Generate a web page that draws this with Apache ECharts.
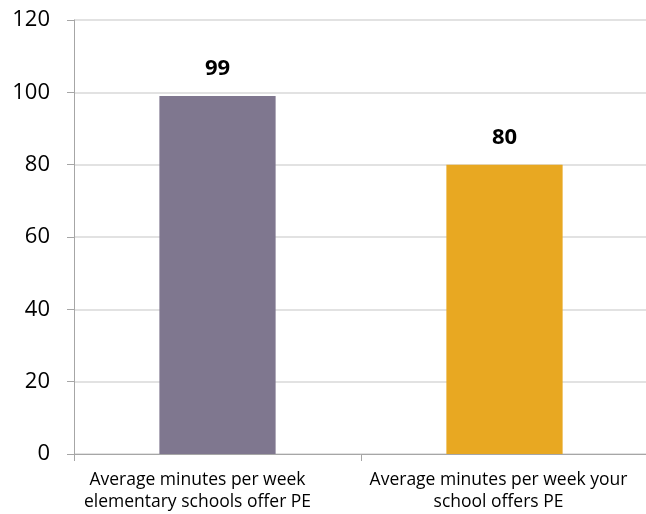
<!DOCTYPE html>
<html>
<head>
<meta charset="utf-8">
<script src="https://cdn.jsdelivr.net/npm/echarts@6/dist/echarts.min.js"></script>
<style>
  html, body { margin: 0; padding: 0; background: #fff; }
  #chart { width: 646px; height: 514px; }
</style>
</head>
<body>
<div id="chart"></div>
<script>
// Average weekly PE minutes: national elementary average vs. this school
const categories = [
  'Average minutes per week\nelementary schools offer PE',
  'Average minutes per week your\nschool offers PE'
];
const minutes = [99, 80];
const barColors = ['#7f778f', '#e8a822'];
const yTicks = { min: 0, max: 120, interval: 20 };
// right-side padding nudges each wrapped label left of its bar centre
const labelPadRight = [40, 12];

const chart = echarts.init(document.getElementById('chart'));
chart.setOption({
  animation: false,
  grid: { left: 74, right: -2, top: 20, bottom: 60, outerBoundsMode: 'none' },
  xAxis: {
    type: 'category',
    data: categories.map((c, i) => ({
      value: c,
      textStyle: { padding: [0, labelPadRight[i], 0, 0] }
    })),
    axisLine: { lineStyle: { color: '#a6a6a6', width: 1 } },
    axisTick: { show: true, alignWithLabel: false, length: 7, lineStyle: { color: '#a6a6a6' } },
    axisLabel: {
      color: '#000',
      fontFamily: 'Open Sans',
      fontSize: 17.5,
      lineHeight: 22,
      margin: 15,
      interval: 0
    }
  },
  yAxis: {
    type: 'value',
    min: yTicks.min,
    max: yTicks.max,
    interval: yTicks.interval,
    axisLine: { show: true, lineStyle: { color: '#a6a6a6', width: 1 } },
    axisTick: { show: true, length: 7, lineStyle: { color: '#a6a6a6' } },
    splitLine: { lineStyle: { color: '#d9d9d9', width: 1.5 } },
    axisLabel: {
      color: '#000',
      fontFamily: 'Open Sans',
      fontSize: 22,
      margin: 24
    }
  },
  series: [{
    type: 'bar',
    data: minutes.map((v, i) => ({ value: v, itemStyle: { color: barColors[i] } })),
    barWidth: '40.5%',
    label: {
      show: true,
      position: 'top',
      distance: 16,
      color: '#000',
      fontFamily: 'Open Sans',
      fontWeight: 'bold',
      fontSize: 22
    }
  }]
});
</script>
</body>
</html>
